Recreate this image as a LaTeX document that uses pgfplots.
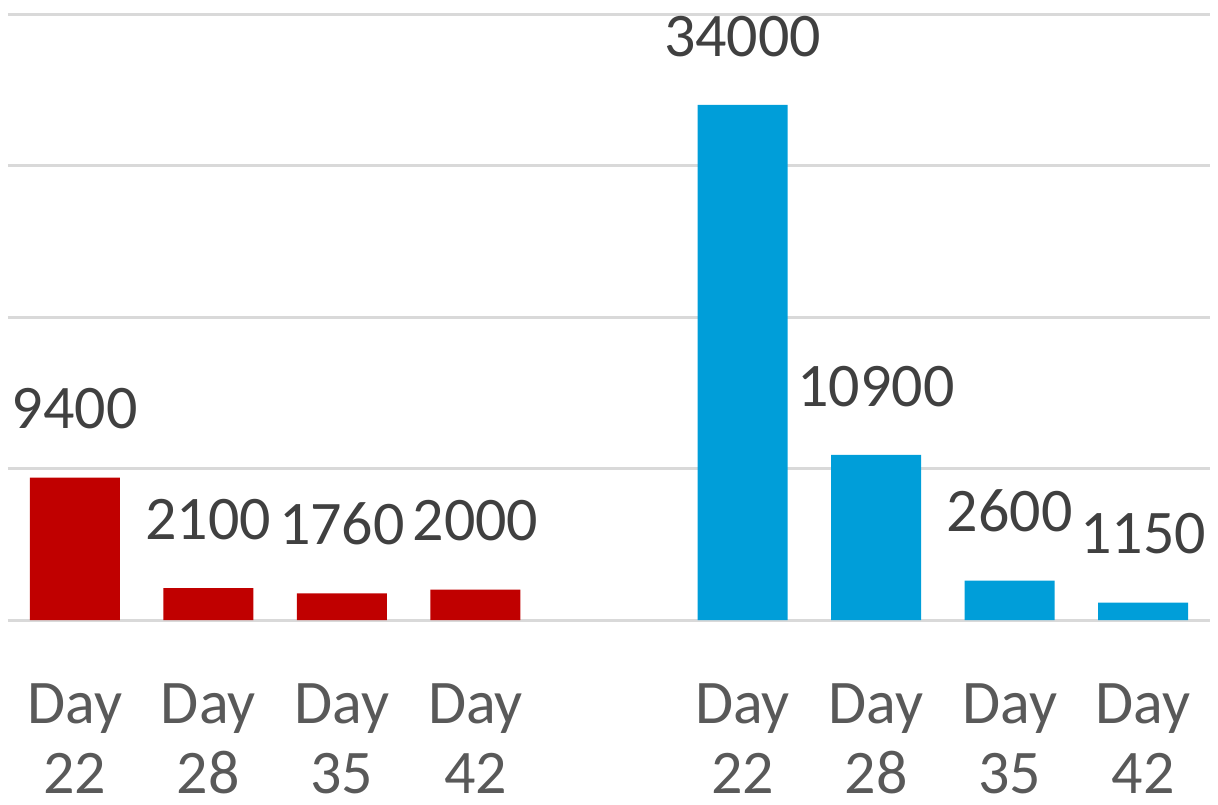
\documentclass[border=0pt]{standalone}
\usepackage{pgfplots}
\pgfplotsset{compat=1.18}
\usepackage{fontspec}
\setmainfont{Carlito}
\definecolor{redbar}{HTML}{C00000}
\definecolor{bluebar}{HTML}{009ED9}
\definecolor{gridc}{HTML}{D9D9D9}
\definecolor{ticktxt}{HTML}{595959}
\definecolor{labtxt}{HTML}{404040}
\begin{document}
\begin{tikzpicture}
\useasboundingbox (-4pt,-92pt) rectangle (605pt,310pt);
\begin{axis}[
  scale only axis,
  width=601pt, height=303pt,
  xmin=-0.5, xmax=8.5,
  ymin=0, ymax=40000,
  ybar, bar width=45pt, bar shift=0pt,
  axis line style={draw=none},
  tick style={draw=none},
  ytick={0,10000,20000,30000,40000},
  yticklabels={},
  ymajorgrids,
  grid style={gridc, line width=1.5pt},
  xtick={0,1,2,3,5,6,7,8},
  xticklabels={{Day\\22},{Day\\28},{Day\\35},{Day\\42},{Day\\22},{Day\\28},{Day\\35},{Day\\42}},
  xticklabel style={align=center, text=ticktxt, font=\fontsize{31}{35}\selectfont, yshift=-24pt},
  /pgf/number format/.cd, assume math mode=true, 1000 sep={}, fixed, precision=0,
  /pgfplots/.cd,
  nodes near coords,
  every node near coord/.append style={text=labtxt, font=\fontsize{31}{35}\selectfont, anchor=south, inner sep=0pt, yshift=24pt},
]
\addplot[fill=redbar, draw=none] coordinates {(0,9400) (1,2100) (2,1760) (3,2000)};
\addplot[fill=bluebar, draw=none] coordinates {(5,34000) (6,10900) (7,2600) (8,1150)};
\end{axis}
\end{tikzpicture}
\end{document}
